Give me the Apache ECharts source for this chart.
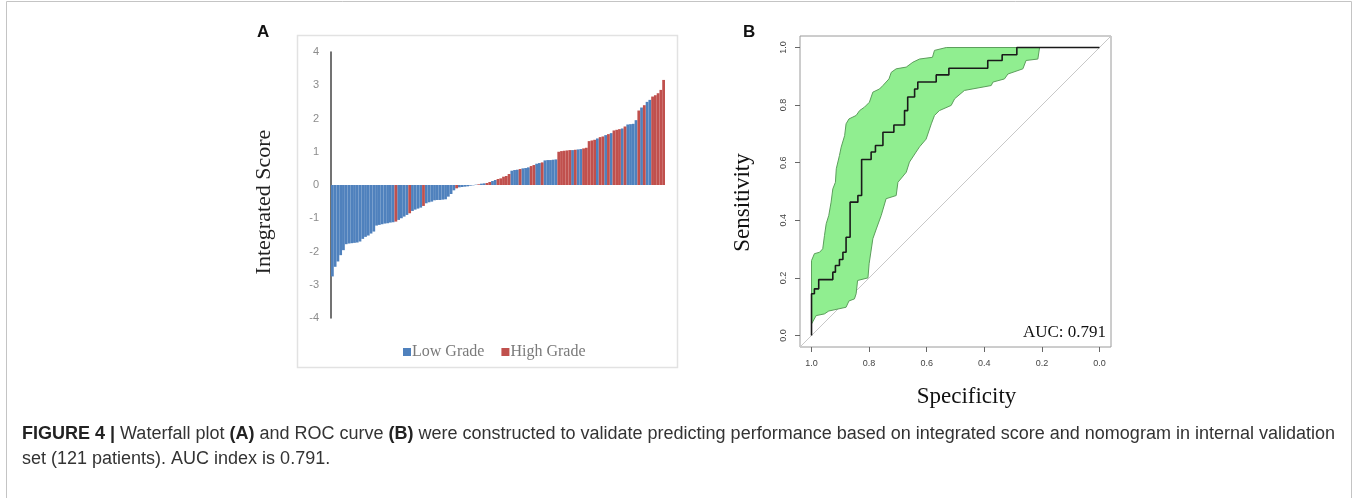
<!DOCTYPE html>
<html>
<head>
<meta charset="utf-8">
<script src="https://cdn.jsdelivr.net/npm/echarts/dist/echarts.min.js"></script>
<style>
  html, body { margin: 0; padding: 0; background: #fff; }
  #chart { width: 1357px; height: 498px; }
</style>
</head>
<body>
<div id="chart"></div>
<script>
// waterfall: integrated score per patient, sorted; L = low grade, H = high grade
var scores = [
  -2.75, -2.46, -2.3, -2.11, -1.96, -1.78, -1.76, -1.75, -1.74, -1.73,
  -1.7, -1.62, -1.56, -1.52, -1.46, -1.4, -1.22, -1.2, -1.18, -1.16,
  -1.15, -1.13, -1.12, -1.1, -1.05, -1.0, -0.95, -0.9, -0.85, -0.78,
  -0.74, -0.71, -0.68, -0.63, -0.55, -0.52, -0.5, -0.46, -0.45, -0.45,
  -0.44, -0.43, -0.35, -0.27, -0.16, -0.1, -0.07, -0.06, -0.05, -0.04,
  -0.02, -0.01, 0.01, 0.02, 0.04, 0.05, 0.06, 0.09, 0.12, 0.15,
  0.18, 0.2, 0.25, 0.27, 0.33, 0.43, 0.45, 0.46, 0.48, 0.5,
  0.51, 0.53, 0.57, 0.6, 0.64, 0.66, 0.68, 0.74, 0.75, 0.75,
  0.76, 0.77, 1.0, 1.02, 1.03, 1.04, 1.05, 1.05, 1.06, 1.07,
  1.08, 1.1, 1.12, 1.32, 1.34, 1.36, 1.4, 1.44, 1.46, 1.5,
  1.53, 1.56, 1.64, 1.66, 1.68, 1.7, 1.76, 1.82, 1.83, 1.84,
  1.95, 2.24, 2.33, 2.4, 2.5, 2.56, 2.66, 2.7, 2.76, 2.86,
  3.16
];
var grades = (
  "LLLLLLLLLL" + "LLLLLLLLLL" + "LLLHLLLLHL" + "LLLHLLLLLL" +
  "LLLLLHLLLL" + "LLLHLLHHLL" + "HHHHHLLLHL" + "LLHHLLHLLL" +
  "LLHHHHHLHL" + "LHHHHHLHHL" + "HLHHHLHLLL" + "LHLHLLHHHH" + "H"
).split("");
var yTicks = [-4, -3, -2, -1, 0, 1, 2, 3, 4];

// ROC curve (specificity, sensitivity)
var rocSpec = [1.0, 1.0, 0.99, 0.975, 0.926, 0.917, 0.903, 0.891, 0.88, 0.866, 0.839, 0.826, 0.793, 0.778, 0.752, 0.714, 0.677, 0.666, 0.642, 0.631, 0.567, 0.523, 0.388, 0.338, 0.287, 0.0];
var rocSens = [0.0, 0.145, 0.162, 0.194, 0.22, 0.243, 0.264, 0.289, 0.341, 0.463, 0.486, 0.611, 0.637, 0.66, 0.706, 0.731, 0.781, 0.828, 0.856, 0.88, 0.905, 0.928, 0.955, 0.975, 1.0, 1.0];

// confidence band of sensitivity
var upSpec = [1.0, 0.99, 0.972, 0.961, 0.955, 0.949, 0.94, 0.932, 0.926, 0.917, 0.914, 0.903, 0.897, 0.885, 0.88, 0.87, 0.845, 0.833, 0.816, 0.799, 0.787, 0.764, 0.752, 0.731, 0.723, 0.706, 0.671, 0.648, 0.625, 0.58, 0.573, 0.532, 0.208];
var upSens = [0.26, 0.284, 0.289, 0.301, 0.347, 0.388, 0.417, 0.463, 0.509, 0.532, 0.579, 0.625, 0.654, 0.694, 0.735, 0.752, 0.764, 0.781, 0.793, 0.81, 0.845, 0.856, 0.868, 0.891, 0.914, 0.926, 0.932, 0.949, 0.96, 0.966, 0.99, 1.0, 1.0];
var loSpec = [1.0, 0.984, 0.955, 0.94, 0.88, 0.87, 0.851, 0.845, 0.84, 0.804, 0.8, 0.787, 0.775, 0.758, 0.741, 0.706, 0.7, 0.671, 0.66, 0.637, 0.625, 0.602, 0.584, 0.573, 0.556, 0.515, 0.503, 0.469, 0.376, 0.37, 0.33, 0.318, 0.266, 0.255, 0.214, 0.208];
var loSens = [0.04, 0.069, 0.075, 0.085, 0.098, 0.12, 0.127, 0.145, 0.191, 0.2, 0.249, 0.336, 0.37, 0.417, 0.475, 0.486, 0.532, 0.567, 0.602, 0.637, 0.655, 0.682, 0.735, 0.764, 0.781, 0.799, 0.822, 0.851, 0.868, 0.88, 0.891, 0.908, 0.926, 0.955, 0.96, 1.0];

var rocTicks = [0, 0.2, 0.4, 0.6, 0.8, 1.0];
var chanceLine = [[1.04, -0.04], [-0.04, 1.04]];
var aucText = "AUC: 0.791";

var chart = echarts.init(document.getElementById("chart"));

var idx = scores.map(function (v, i) { return i + 1; });
var lowData = scores.map(function (v, i) { return grades[i] === "L" ? v : "-"; });
var highData = scores.map(function (v, i) { return grades[i] === "H" ? v : "-"; });
var rocData = rocSpec.map(function (s, i) { return [s, rocSens[i]]; });

var serif = "'Liberation Serif', 'DejaVu Serif', serif";
var sans = "'Liberation Sans', Arial, sans-serif";

var option = {
  backgroundColor: "#ffffff",
  animation: false,
  grid: [
    { left: 331, top: 52, width: 334, height: 266 },
    { left: 800, top: 36, width: 311, height: 311, show: true, borderColor: "#9a9a9a", borderWidth: 1 }
  ],
  legend: {
    data: ["Low Grade", "High Grade"],
    left: 398, top: 339,
    icon: "rect", itemWidth: 8, itemHeight: 8, itemGap: 17,
    textStyle: { fontFamily: serif, fontSize: 16, color: "#7a7a7a", padding: [0, 0, 0, -4] }
  },
  xAxis: [
    { type: "category", gridIndex: 0, data: idx, show: false },
    {
      type: "value", gridIndex: 1, min: -0.04, max: 1.04, inverse: true, position: "bottom",
      axisLine: { show: false, onZero: false },
      axisTick: { show: true, inside: false, customValues: rocTicks, length: 5, lineStyle: { color: "#666" } },
      axisLabel: { customValues: rocTicks, fontSize: 9, color: "#444", margin: 12, fontFamily: sans,
        formatter: function (v) { return v.toFixed(1); } },
      splitLine: { show: false },
      name: "Specificity", nameLocation: "middle", nameGap: 38,
      nameTextStyle: { fontFamily: serif, fontSize: 23, color: "#111", padding: [0, 0, 0, 22] }
    }
  ],
  yAxis: [
    {
      type: "value", gridIndex: 0, min: -4, max: 4, interval: 1,
      axisLine: { show: true, onZero: false, lineStyle: { color: "#444", width: 1.5 } },
      axisTick: { show: false },
      splitLine: { show: false },
      axisLabel: { fontSize: 11, color: "#8c8c8c", margin: 12, fontFamily: sans,
        formatter: function (v) { return yTicks.indexOf(v) >= 0 ? String(v) : ""; } },
      name: "Integrated Score", nameLocation: "middle", nameGap: 56, nameRotate: 90,
      nameTextStyle: { fontFamily: serif, fontSize: 22, color: "#222", padding: [0, 34, 0, 0] }
    },
    {
      type: "value", gridIndex: 1, min: -0.04, max: 1.04, position: "left",
      axisLine: { show: false, onZero: false },
      axisTick: { show: true, inside: false, customValues: rocTicks, length: 5, lineStyle: { color: "#666" } },
      axisLabel: { customValues: rocTicks, fontSize: 9, color: "#444", margin: 12, rotate: 90, fontFamily: sans,
        formatter: function (v) { return v.toFixed(1); } },
      splitLine: { show: false },
      name: "Sensitivity", nameLocation: "middle", nameGap: 46, nameRotate: 90,
      nameTextStyle: { fontFamily: serif, fontSize: 23, color: "#111", padding: [0, 22, 0, 0] }
    }
  ],
  series: [
    {
      name: "Low Grade", type: "bar", xAxisIndex: 0, yAxisIndex: 0,
      data: lowData, barGap: "-100%", barCategoryGap: "0%",
      itemStyle: { color: "#4f81bd" }
    },
    {
      name: "High Grade", type: "bar", xAxisIndex: 0, yAxisIndex: 0,
      data: highData, barGap: "-100%", barCategoryGap: "0%",
      itemStyle: { color: "#c0504d" }
    },
    {
      type: "custom", xAxisIndex: 1, yAxisIndex: 1, silent: true, z: 2,
      data: [[0.5, 0.5]],
      renderItem: function (params, api) {
        var pts = [];
        for (var i = 0; i < upSpec.length; i++) pts.push(api.coord([upSpec[i], upSens[i]]));
        for (var j = loSpec.length - 1; j >= 0; j--) pts.push(api.coord([loSpec[j], loSens[j]]));
        return { type: "polygon", shape: { points: pts },
          style: { fill: "#90ee90", stroke: "#5c9e5c", lineWidth: 1 } };
      }
    },
    {
      type: "line", xAxisIndex: 1, yAxisIndex: 1, silent: true, z: 1,
      data: chanceLine, symbol: "none",
      lineStyle: { color: "#c8c8c8", width: 1 }
    },
    {
      type: "line", xAxisIndex: 1, yAxisIndex: 1, silent: true, z: 3,
      data: rocData, step: "end", symbol: "none",
      lineStyle: { color: "#1a1a1a", width: 1.6 }
    }
  ],
  graphic: [
    { type: "rect", shape: { x: 6.5, y: 1.5, width: 1345, height: 520 }, style: { fill: null, stroke: "#c4c4c4", lineWidth: 1 }, silent: true, z: -10 },
    { type: "rect", shape: { x: 297.5, y: 35.5, width: 380, height: 332 }, style: { fill: null, stroke: "#e2e2e2", lineWidth: 1.5 }, silent: true },
    { type: "text", left: 257, top: 24, style: { text: "A", font: "bold 17px " + sans, fill: "#111" } },
    { type: "text", left: 743, top: 24, style: { text: "B", font: "bold 17px " + sans, fill: "#111" } },
    { type: "text", right: 251, top: 324, style: { text: aucText, font: "17px " + serif, fill: "#111", textAlign: "right" } },
    {
      type: "text", left: 22, top: 422,
      style: {
        text: "{b|FIGURE 4 |} Waterfall plot {b|(A)} and ROC curve {b|(B)} were constructed to validate predicting performance based on integrated score and nomogram in internal validation\nset (121 patients). AUC index is 0.791.",
        font: "18px " + sans, fill: "#333", lineHeight: 25,
        rich: { b: { fontWeight: "bold", fontSize: 18, fontFamily: sans, fill: "#222" } }
      }
    }
  ]
};
chart.setOption(option);
</script>
</body>
</html>
